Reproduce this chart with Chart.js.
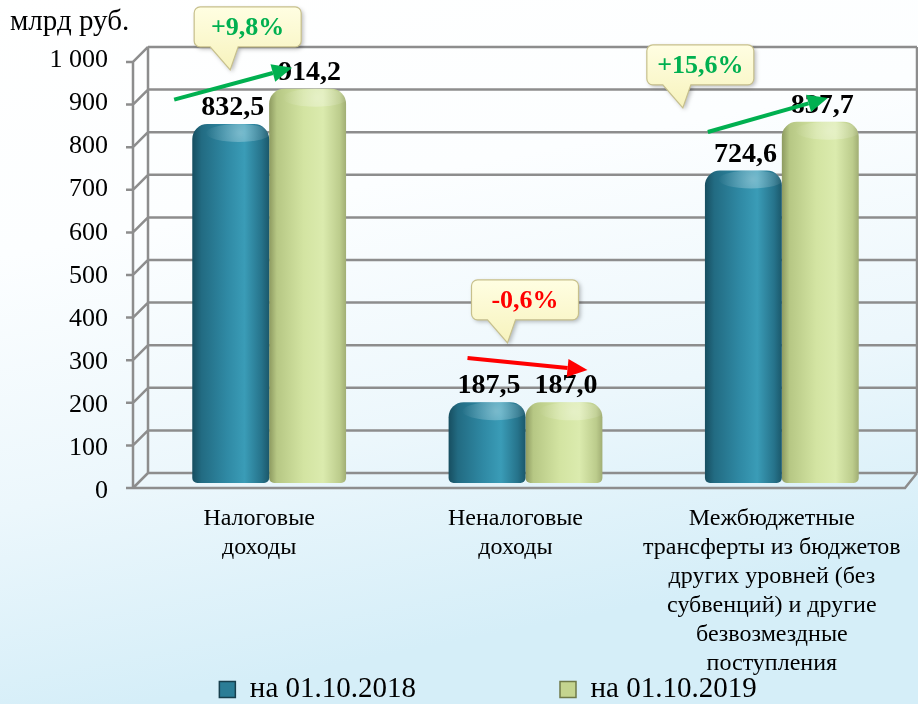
<!DOCTYPE html>
<html><head><meta charset="utf-8">
<script src="https://cdn.jsdelivr.net/npm/chart.js@4.4.1/dist/chart.umd.min.js"></script>
<style>html,body{margin:0;padding:0;background:#fff;overflow:hidden}</style>
</head><body>
<canvas id="c" width="918" height="704"></canvas>
<script>
// ---------- data ----------
const CATEGORIES = [
  ['Налоговые', 'доходы'],
  ['Неналоговые', 'доходы'],
  ['Межбюджетные', 'трансферты из бюджетов', 'других уровней (без', 'субвенций) и другие', 'безвозмездные', 'поступления']
];
const SERIES_NAMES = ['на 01.10.2018', 'на 01.10.2019'];
const VALUES_2018 = [832.5, 187.5, 724.6];
const VALUES_2019 = [914.2, 187.0, 837.7];
const Y_MIN = 0, Y_MAX = 1000, Y_STEP = 100;
const UNIT_LABEL = 'млрд руб.';
const CHANGE_LABELS = ['+9,8%', '-0,6%', '+15,6%'];
const CHANGE_COLORS = ['#00b050', '#ff0000', '#00b050'];

// annotation anchors (category index + pixel shift, value on y scale)
const CALLOUT_TIPS = [ {cat:0, dx:-39, v:958}, {cat:1, dx:-18, v:325}, {cat:2, dx:-99, v:870} ];
const ARROWS = [
  {from:{cat:0, dx:-95, v:889}, to:{cat:0, dx:23, v:963}},
  {from:{cat:1, dx:-58, v:290}, to:{cat:1, dx:62, v:262}},
  {from:{cat:2, dx:-74, v:814}, to:{cat:2, dx:46, v:893}}
];

// ---------- style ----------
const FONT = "'Liberation Serif', 'Times New Roman', serif";
const CAT_PCT = 0.6;
const BLUE_STOPS = [[0,'#174e60'],[0.12,'#226b82'],[0.45,'#2f89a4'],[0.68,'#3a9cb7'],[0.9,'#26738b'],[1,'#1b586b']];
const GREEN_STOPS = [[0,'#8d9a60'],[0.1,'#b6c784'],[0.45,'#d3e4a2'],[0.7,'#dbebae'],[0.92,'#bccc8c'],[1,'#a1ae74']];
const LEGEND_FILL = ['#2b7d96', '#c4d48f'];
const LEGEND_STROKE = ['#173f4d', '#6f7a48'];

function fmtThousands(v){ return String(v).replace(/\B(?=(\d{3})+(?!\d))/g, '\u00a0'); }
function fmtDec(v){ return v.toFixed(1).replace('.', ','); }

function barFill(stops, solid){
  return function(ctx){
    if (ctx.type !== 'data') return solid;
    const chart = ctx.chart, xs = chart.scales.x;
    if (!xs || !chart.chartArea) return solid;
    const c = xs.getPixelForValue(ctx.dataIndex);
    const cw = xs.width / CATEGORIES.length;
    const bw = cw * CAT_PCT / 2;
    const left = c - cw * CAT_PCT / 2 + ctx.datasetIndex * bw;
    const g = chart.ctx.createLinearGradient(left, 0, left + bw, 0);
    stops.forEach(s => g.addColorStop(s[0], s[1]));
    return g;
  };
}

function ptFor(chart, a){
  const xs = chart.scales.x, ys = chart.scales.y;
  return [xs.getPixelForValue(a.cat) + a.dx, ys.getPixelForValue(a.v)];
}

const decor = {
  id: 'decor',
  afterLayout(chart){
    const xs = chart.scales.x;
    if (xs){ xs.bottom = chart.height; xs.height = xs.bottom - xs.top; }
    if (chart.legend){
      chart.legend.top += 10; chart.legend.bottom += 10;
      chart.legend.left += 28; chart.legend.right += 28;
    }
  },
  beforeDraw(chart){
    const ctx = chart.ctx, W = chart.width, H = chart.height;
    ctx.save();
    const g = ctx.createLinearGradient(0, 0, W * 0.15, H);
    g.addColorStop(0, '#ffffff');
    g.addColorStop(0.35, '#fcfeff');
    g.addColorStop(0.7, '#ecf7fc');
    g.addColorStop(1, '#d5eef8');
    ctx.fillStyle = g;
    ctx.fillRect(0, 0, W, H);
    ctx.restore();
  },
  beforeDatasetsDraw(chart){
    const ctx = chart.ctx, a = chart.chartArea, ys = chart.scales.y;
    const p0 = ys.getPixelForValue(Y_MIN);
    const front = v => p0 + 5 + (ys.getPixelForValue(v) - p0) * 0.988;
    const back = v => front(v) - 15;
    const xF = a.left - 8, xB = a.left + 7, xR = a.right + 7, xFR = a.right - 5;
    ctx.save();
    ctx.strokeStyle = '#8d8d8d';
    ctx.lineWidth = 2.5;
    ctx.lineCap = 'butt';
    ctx.beginPath();
    for (let v = Y_MIN; v <= Y_MAX; v += Y_STEP){
      ctx.moveTo(xB, back(v)); ctx.lineTo(xR, back(v));
      ctx.moveTo(xF, front(v)); ctx.lineTo(xB, back(v));
      ctx.moveTo(xF - 7, front(v)); ctx.lineTo(xF, front(v));
    }
    ctx.moveTo(xB, back(Y_MIN)); ctx.lineTo(xB, back(Y_MAX));
    ctx.moveTo(xR, back(Y_MIN)); ctx.lineTo(xR, back(Y_MAX));
    ctx.moveTo(xF, front(Y_MIN)); ctx.lineTo(xF, front(Y_MAX));
    ctx.moveTo(xF, front(Y_MIN)); ctx.lineTo(xFR, front(Y_MIN)); ctx.lineTo(xR, back(Y_MIN));
    ctx.stroke();
    ctx.restore();
  },
  afterDatasetsDraw(chart){
    const ctx = chart.ctx;
    ctx.save();
    // soft highlights on bar caps
    chart.data.datasets.forEach((ds, di) => {
      const meta = chart.getDatasetMeta(di);
      meta.data.forEach((bar) => {
        const {x, y, width} = bar.getProps(['x','y','width'], true);
        const hg = ctx.createRadialGradient(x + width*0.12, y + 9, 1, x + width*0.12, y + 9, width*0.45);
        hg.addColorStop(0, 'rgba(255,255,255,0.32)');
        hg.addColorStop(1, 'rgba(255,255,255,0)');
        ctx.fillStyle = hg;
        ctx.beginPath();
        ctx.ellipse(x + width*0.1, y + 9, width*0.42, 9, 0, 0, Math.PI*2);
        ctx.fill();
      });
    });
    // value labels
    ctx.fillStyle = '#000';
    ctx.font = 'bold 28px ' + FONT;
    ctx.textAlign = 'center';
    ctx.textBaseline = 'alphabetic';
    chart.data.datasets.forEach((ds, di) => {
      const meta = chart.getDatasetMeta(di);
      meta.data.forEach((bar, i) => {
        const {x, y} = bar.getProps(['x','y'], true);
        ctx.fillText(fmtDec(ds.data[i]), x + 2, y - 9);
      });
    });
    // callouts
    CALLOUT_TIPS.forEach((c, i) => {
      const [tx, ty] = ptFor(chart, c);
      const w = 107, h = 40, r = 6;
      const left = tx - 36, bottom = ty - 23, top = bottom - h;
      ctx.save();
      ctx.beginPath();
      ctx.moveTo(left + r, top);
      ctx.lineTo(left + w - r, top);
      ctx.arcTo(left + w, top, left + w, top + r, r);
      ctx.lineTo(left + w, bottom - r);
      ctx.arcTo(left + w, bottom, left + w - r, bottom, r);
      ctx.lineTo(left + 44, bottom);
      ctx.lineTo(tx, ty);
      ctx.lineTo(left + 16, bottom);
      ctx.lineTo(left + r, bottom);
      ctx.arcTo(left, bottom, left, bottom - r, r);
      ctx.lineTo(left, top + r);
      ctx.arcTo(left, top, left + r, top, r);
      ctx.closePath();
      ctx.shadowColor = 'rgba(0,0,0,0.28)';
      ctx.shadowBlur = 4; ctx.shadowOffsetX = 2; ctx.shadowOffsetY = 2;
      const fg = ctx.createLinearGradient(0, top, 0, ty);
      fg.addColorStop(0, '#fffee2');
      fg.addColorStop(1, '#f7f3bd');
      ctx.fillStyle = fg;
      ctx.fill();
      ctx.shadowColor = 'transparent';
      ctx.strokeStyle = '#c7c08c';
      ctx.lineWidth = 1.2;
      ctx.stroke();
      ctx.fillStyle = CHANGE_COLORS[i];
      ctx.font = 'bold 26px ' + FONT;
      ctx.textAlign = 'center';
      ctx.textBaseline = 'middle';
      ctx.fillText(CHANGE_LABELS[i], left + w / 2, top + h / 2 + 1);
      ctx.restore();
    });
    // arrows
    ARROWS.forEach((ar, i) => {
      const [x0, y0] = ptFor(chart, ar.from);
      const [x1, y1] = ptFor(chart, ar.to);
      const ang = Math.atan2(y1 - y0, x1 - x0);
      const L = 20, Wd = 9;
      const bx = x1 - L * Math.cos(ang), by = y1 - L * Math.sin(ang);
      ctx.strokeStyle = CHANGE_COLORS[i];
      ctx.fillStyle = CHANGE_COLORS[i];
      ctx.lineWidth = 4;
      ctx.beginPath(); ctx.moveTo(x0, y0); ctx.lineTo(bx, by); ctx.stroke();
      ctx.beginPath();
      ctx.moveTo(x1, y1);
      ctx.lineTo(bx + Wd * Math.sin(ang), by - Wd * Math.cos(ang));
      ctx.lineTo(bx - Wd * Math.sin(ang), by + Wd * Math.cos(ang));
      ctx.closePath(); ctx.fill();
    });
    ctx.restore();
  }
};

Chart.defaults.font.family = FONT;
Chart.defaults.color = '#000';

new Chart(document.getElementById('c'), {
  type: 'bar',
  data: {
    labels: CATEGORIES,
    datasets: [
      { label: SERIES_NAMES[0], data: VALUES_2018, backgroundColor: barFill(BLUE_STOPS, LEGEND_FILL[0]),
        borderWidth: 0, borderSkipped: false,
        borderRadius: {topLeft: 15, topRight: 15, bottomLeft: 5, bottomRight: 5} },
      { label: SERIES_NAMES[1], data: VALUES_2019, backgroundColor: barFill(GREEN_STOPS, LEGEND_FILL[1]),
        borderWidth: 0, borderSkipped: false,
        borderRadius: {topLeft: 15, topRight: 15, bottomLeft: 5, bottomRight: 5} }
    ]
  },
  options: {
    responsive: false,
    devicePixelRatio: 1,
    animation: false,
    events: [],
    layout: { padding: { left: 10, right: 8, top: 0, bottom: 0 } },
    datasets: { bar: { categoryPercentage: CAT_PCT, barPercentage: 1 } },
    scales: {
      x: {
        grid: { display: false, drawTicks: false },
        border: { display: false },
        ticks: { padding: 21, labelOffset: -10, maxRotation: 0, autoSkip: false, color: '#000',
                 font: { size: 24, lineHeight: 1.21 } },
        afterFit(s){ s.height = 38; s.paddingLeft = 0; s.paddingRight = 0; }
      },
      y: {
        min: Y_MIN, max: Y_MAX,
        grid: { display: false, drawTicks: false },
        border: { display: false },
        ticks: { stepSize: Y_STEP, padding: 33, labelOffset: 8.5, color: '#000',
                 font: { size: 26 }, callback: v => fmtThousands(v) },
        afterFit(s){ s.width = 131; s.paddingTop = 0; s.paddingBottom = 0; }
      }
    },
    plugins: {
      title: { display: true, text: UNIT_LABEL, align: 'start', color: '#000',
               font: { size: 29, weight: 'normal', lineHeight: 1.2 }, padding: { top: 5, bottom: 12 } },
      legend: {
        position: 'bottom',
        labels: {
          boxWidth: 16, boxHeight: 16, padding: 144, color: '#000',
          font: { size: 29 },
          generateLabels(chart){
            const items = Chart.defaults.plugins.legend.labels.generateLabels(chart);
            items.forEach((it, i) => { it.fillStyle = LEGEND_FILL[i]; it.strokeStyle = LEGEND_STROKE[i]; it.lineWidth = 1.5; });
            return items;
          }
        }
      },
      tooltip: { enabled: false }
    }
  },
  plugins: [decor]
});
</script>
</body></html>
